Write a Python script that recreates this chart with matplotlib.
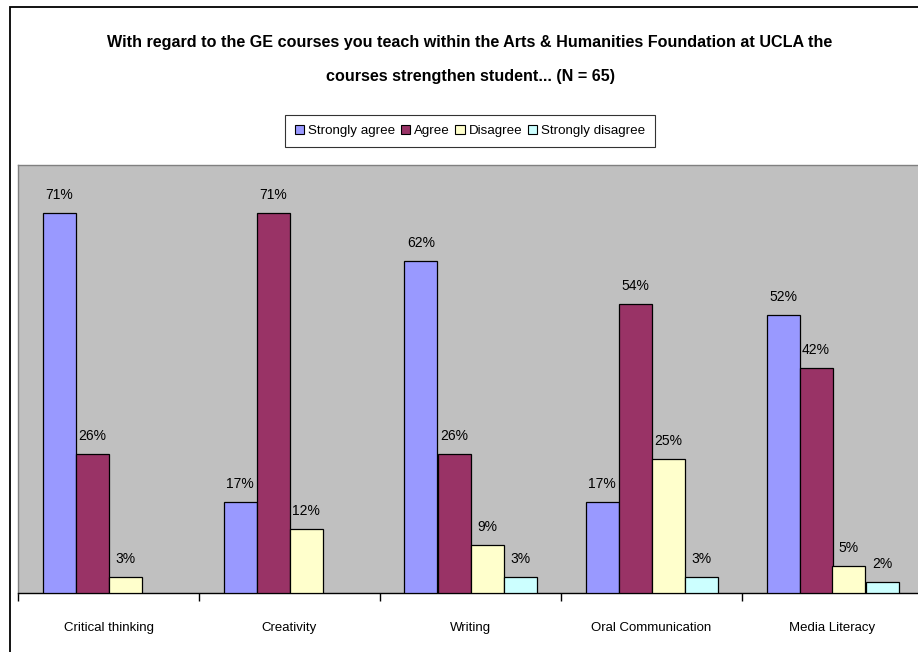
import numpy as np
import matplotlib.pyplot as plt
from matplotlib.patches import Rectangle, Patch

plt.rcParams['font.family'] = ['Liberation Sans Narrow', 'Liberation Sans', 'DejaVu Sans']

categories = ['Critical thinking', 'Creativity', 'Writing', 'Oral Communication', 'Media Literacy']
series = ['Strongly agree', 'Agree', 'Disagree', 'Strongly disagree']
strongly_agree = [71, 17, 62, 17, 52]
agree = [26, 71, 26, 54, 42]
disagree = [3, 12, 9, 25, 5]
strongly_disagree = [0, 0, 3, 3, 2]
colors = ['#9999FF', '#993366', '#FFFFCC', '#CCFFFF']

W, H = 918, 652
fig = plt.figure(figsize=(W / 100, H / 100), dpi=100)
fig.patch.set_facecolor('white')

# chart border (runs off the right and bottom edges)
fig.patches.append(Rectangle((10 / W, -0.2), 2, 1 - 7 / H + 0.2, transform=fig.transFigure,
                             fill=False, edgecolor='black', lw=1.3))

ax = fig.add_axes([18 / W, 1 - 593 / H, 905 / W, (593 - 165) / H])
ax.set_facecolor('#C0C0C0')

x = np.arange(len(categories))
bw = 33 / 181
values = [strongly_agree, agree, disagree, strongly_disagree]
for i, (vals, col) in enumerate(zip(values, colors)):
    pos = x - 2 * bw + (i + 0.5) * bw
    for p, v in zip(pos, vals):
        if v <= 0:
            continue
        ax.bar(p, v, width=bw, color=col, edgecolor='black', linewidth=0.9, zorder=3)
        ax.annotate(f'{v}%', (p, v), xytext=(0, 8), textcoords='offset points',
                    ha='center', va='bottom', fontsize=10)

ax.set_xlim(-0.5, len(categories) - 0.5)
ax.set_ylim(0, 80)
ax.set_yticks([])
ax.set_xticks(np.arange(len(categories) + 1) - 0.5)
ax.set_xticklabels([])
ax.set_xticks(x, minor=True)
ax.set_xticklabels(categories, minor=True, fontsize=9.5)
ax.tick_params(axis='x', which='major', length=6, width=1, direction='out')
ax.tick_params(axis='x', which='minor', length=0, pad=21)

for s in ['top', 'left', 'right']:
    ax.spines[s].set_color('#808080')
    ax.spines[s].set_linewidth(1)
ax.spines['bottom'].set_color('black')
ax.spines['bottom'].set_linewidth(1)

fig.text(470 / W, 1 - 43 / H,
         'With regard to the GE courses you teach within the Arts & Humanities Foundation at UCLA the',
         ha='center', va='center', fontsize=11.6, fontweight='bold')
fig.text(470 / W, 1 - 76 / H, 'courses strengthen student... (N = 65)',
         ha='center', va='center', fontsize=11.6, fontweight='bold')

handles = [Patch(facecolor=c, edgecolor='black', linewidth=0.8) for c in colors]
leg = fig.legend(handles, series, loc='center', bbox_to_anchor=(470 / W, 1 - 131 / H),
                 ncol=4, fontsize=9.6, frameon=True, fancybox=False, edgecolor='black',
                 handlelength=0.7, handleheight=0.7, handletextpad=0.3, columnspacing=0.4,
                 borderpad=0.75, borderaxespad=0)
leg.get_frame().set_linewidth(0.8)

fig.savefig('out.png', dpi=100)
